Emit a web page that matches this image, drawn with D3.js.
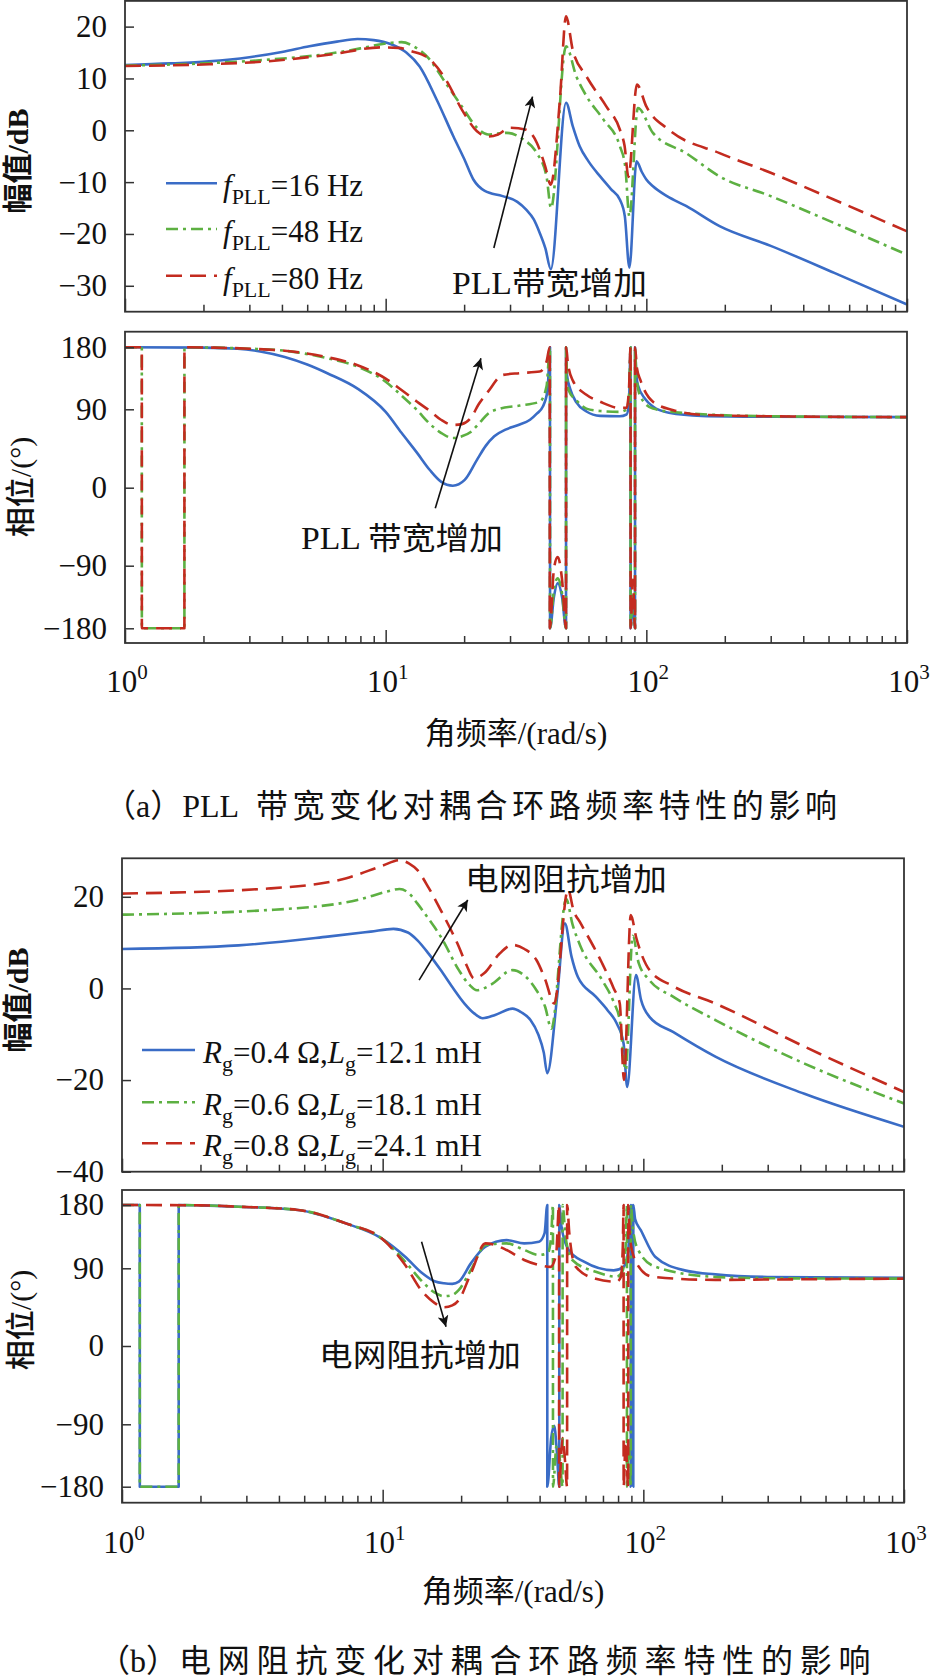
<!DOCTYPE html>
<html><head><meta charset="utf-8">
<script src="https://cdn.jsdelivr.net/npm/d3@7"></script>
<style>
body{margin:0;background:#fff;}
svg{display:block;background:#fff;}
text{font-family:"Liberation Serif","Noto Sans CJK SC",serif;fill:#111;}
</style></head><body>
<svg id="c" width="933" height="1680"></svg>
<script>
// ---------- data ----------
const xDomain = [1, 1000];
const xMajor = [1, 10, 100, 1000];
const xExp = ["0", "1", "2", "3"];
const magTicksA = [-30, -20, -10, 0, 10, 20];
const magTicksB = [-40, -20, 0, 20];
const phaseTicks = [-180, -90, 0, 90, 180];

const legendA = ["=16 Hz", "=48 Hz", "=80 Hz"];
const legendB = [["=0.4 Ω,", "=12.1 mH"], ["=0.6 Ω,", "=18.1 mH"], ["=0.8 Ω,", "=24.1 mH"]];

// (a) magnitude, dB  [rad/s, dB]
const magA16 = [[1,12.6],[1.5,12.9],[2.1,13.3],[3,14.1],[4,15.1],[5.1,16.2],[6.5,17.1],[7.8,17.6],[9,17.4],[10.5,16.6],[12,15],[13.5,12.3],[15.7,5.9],[18.2,-1.2],[20,-5.5],[21.7,-9.5],[24,-11.7],[28.1,-12.7],[32,-13.8],[34.6,-15.3],[37,-17.2],[39,-19.8],[41,-22.8],[43,-26.8],[49.2,5.3],[52.2,0.8],[55.5,-3.1],[60,-6],[66.5,-8.9],[73,-11.3],[79.2,-13.4],[82.7,-16.6],[86.1,-26.5],[91.7,-6.0],[96,-8],[100,-9.5],[106,-10.8],[120,-12.7],[142,-14.6],[191,-18.5],[300,-22.3],[526,-27.5],[1000,-33.6]];
const magA48 = [[1,12.5],[2,12.9],[3.5,13.6],[6.3,14.9],[8,15.8],[9.6,16.6],[11.5,17.0],[13,16],[14.6,13.9],[17,9.1],[19.6,4.6],[22.4,0.5],[24.7,-0.8],[29.1,-0.5],[33.8,-1.8],[38,-4.4],[41.4,-8.9],[43.1,-15],[49.2,16.2],[53.9,10.4],[58.9,6.6],[68.4,2.1],[79.2,-3.1],[83,-7],[86.1,-16.6],[92.8,4.3],[106,-0.5],[142,-4.4],[191,-8.9],[300,-12.7],[526,-17.9],[1000,-24]];
const magA80 = [[1,12.4],[2,12.7],[3.5,13.3],[6.3,14.7],[9.6,16.0],[11.2,15.9],[12.5,15.3],[14.6,13.9],[17,9.8],[19.6,4.0],[22.4,-0.2],[24.7,-1.2],[27,-0.8],[30,0.5],[34.6,0.1],[38,-2.4],[40.9,-6.9],[43,-10.5],[46.6,5.9],[49.2,22],[52.2,15.5],[58.9,10.4],[70.2,4.6],[79.2,0.1],[82.5,-3],[85.4,-9],[92,8.8],[100,4.6],[122,0.1],[191,-4.4],[300,-8.2],[526,-13.4],[1000,-19.5]];

// (a) phase, deg
const phA16 = [[1,180],[2,179.5],[2.7,178],[3.3,174],[4.1,166],[5,155],[6,142],[7.8,120],[10,87],[11.5,63],[13.2,40],[14.8,20],[16.3,7],[18.1,2.3],[20.1,9],[22.4,32],[24.2,48],[26.1,59],[29,67],[32.3,72],[35.8,78],[38,85],[40.1,94],[41.8,118],[42.7,180],[42.72,-180],[44.2,-135],[45.7,-115],[47.5,-135],[49.2,-180],[49.22,180],[49.6,140],[51,120],[53.9,100],[58.9,87.5],[66.5,82.5],[79,82],[84,84],[85.8,100],[87,180],[87.02,-180],[88.8,-140],[90.5,-180],[90.52,180],[91.3,150],[92.8,125],[99,105],[106,94],[122,86],[163,82.5],[300,81.5],[1000,81]];
const phA48 = [[1,180],[1.16,180],[1.1605,-180],[1.69,-180],[1.6905,180],[2.2,179.5],[3,178],[4.1,175],[6,164],[7.8,152],[10,130],[11.5,110],[13.2,89],[14.8,73],[16.3,63],[18.1,57],[19.6,59],[21.2,64],[23,75],[24.7,85],[27.5,91],[32.7,95.4],[39,101],[41.4,123],[42.7,180],[42.72,-180],[44.2,-125],[45.7,-108],[47.5,-130],[49.2,-180],[49.22,180],[49.6,140],[50.3,118],[53.9,103],[58.9,91],[66.5,88],[79,87],[84,90],[85.8,110],[87,180],[87.02,-180],[88.8,-130],[90.5,-180],[90.52,180],[91.5,140],[95,108],[106,91],[142,85.6],[300,82],[1000,81]];
const phA80 = [[1,180],[1.16,180],[1.1605,-180],[1.69,-180],[1.6905,180],[2.2,179.5],[3,178],[4.1,175],[6,165.5],[7.8,154],[10,134.5],[11.5,118],[13.2,101],[14.8,88],[16.3,78],[18.1,72],[19.6,73],[21.2,80],[22.8,98],[24.7,115.6],[28.1,139.8],[32.7,142.5],[39,144.8],[41.4,159],[42.6,180],[42.62,-180],[44.2,-95],[45.7,-80],[47.5,-110],[49.2,-180],[49.22,180],[50,157],[52.2,132],[58.9,111],[66.5,101],[79,92],[84,92],[85.8,120],[87,180],[87.02,-180],[88.8,-110],[90.5,-180],[90.52,180],[92,150],[95,132],[106,101],[127,89],[163,83.7],[300,82],[1000,81]];

// (b) magnitude, dB
const magB04 = [[1,8.6],[2.8,9.4],[6.15,11.3],[9,12.4],[11,13],[12.5,12.2],[13.6,10.5],[15,7.6],[16.7,4.0],[18.5,0.3],[20.6,-3.3],[22.5,-5.5],[24.2,-6.5],[27,-5.8],[31.5,-4.4],[34,-5.2],[36.9,-6.9],[39.5,-10],[41.5,-14],[42.8,-18.5],[46.7,-1.8],[50,14.2],[53,7],[56.1,2.5],[65.7,-1.8],[73,-4.8],[79,-7.6],[84,-12],[86.7,-21.5],[93.7,2.9],[98,-2.5],[105.6,-6.2],[130,-9.5],[189,-14.9],[415,-23],[1000,-30.2]];
const magB06 = [[1,16.1],[3.63,17.1],[8,19.3],[10.5,21.2],[11.6,21.7],[12.6,20.8],[13.6,18.5],[15,15.2],[16.7,11.3],[19.6,4.0],[21.5,0.8],[23,-0.4],[26,0.8],[31.5,4.0],[35,2.8],[38.9,-0.4],[42,-4],[44.4,-8.8],[50.6,19.5],[53.5,14],[57.5,9.1],[69.5,1.8],[77,-3],[81.2,-6.9],[85.6,-17.8],[91,11.5],[96,5.5],[105.6,1.8],[130,-1.8],[189,-6.9],[415,-16.4],[1000,-25.1]];
const magB08 = [[1,20.7],[3.63,21.8],[7.2,24.0],[10,26.8],[11.6,28],[12.6,27.3],[13.6,25.8],[15,22],[16.7,17.1],[19.6,9.1],[21,5],[22.4,2.2],[24.5,3.3],[28,7.5],[31.5,9.5],[35,8.6],[38.9,6.2],[42,2],[45.5,-3.3],[51.4,21.6],[54,17],[57.5,14.2],[69.5,5.5],[77,0],[81.2,-3.3],[84.3,-20],[89.5,16.0],[94,11],[105.6,4.0],[130,0.5],[189,-3.3],[415,-12.7],[1000,-22.6]];

// (b) phase, deg
const phB04 = [[1,180],[1.17,180],[1.1705,-180],[1.65,-180],[1.6505,180],[2,179.5],[2.8,177.6],[4.73,173],[7.2,154],[9.9,132.6],[12.2,106.5],[14.2,84.2],[15.8,75],[17.2,72.6],[18.5,72],[19.6,74.5],[21.8,97],[24.8,120.7],[29.9,130],[34.9,125.5],[39.8,127.8],[41.8,140],[42.8,180],[42.82,-180],[44.3,-110],[45.5,-92],[46.6,-130],[47.6,-180],[47.62,180],[48.5,150],[51.7,116],[59.2,99.4],[77,87.6],[84,92],[87.5,115],[89.5,180],[89.52,-180],[90.5,-150],[91.5,-180],[91.52,180],[93,160],[97.9,144],[111,106.5],[144,87.6],[189,83],[300,80],[1000,79]];
const phB06 = [[1,180],[1.17,180],[1.1705,-180],[1.65,-180],[1.6505,180],[2,179.5],[2.8,177.6],[4.73,173],[7.2,154],[9.9,132.6],[12.2,99.4],[14.2,74.5],[15.8,62],[17.2,57.7],[18.5,59],[19.6,64.9],[21.8,88],[24.8,123],[29.9,125.5],[34.9,116],[39.8,109],[43,112],[44.3,135],[45,180],[45.02,-180],[46.5,-120],[47.8,-140],[49,-180],[49.02,180],[50.3,135],[53.4,101.8],[65.7,86],[79,80.3],[83,86],[85.5,120],[86.5,180],[86.52,-180],[88,-120],[89.5,-180],[89.52,180],[91,150],[95,118],[111,92.3],[189,80],[300,78.5],[1000,78]];
const phB08 = [[1,180],[2,179.5],[2.8,177.6],[4.73,173],[7.2,154],[9.9,132.6],[12.2,94.7],[14.2,62.9],[15.8,50],[17.2,44.8],[18.5,47],[19.6,53.3],[21.8,84.2],[24.8,125.5],[29.9,116],[34.9,101.8],[39.8,94.7],[44,92],[46.3,110],[47.5,180],[47.52,-180],[49,-110],[50,-140],[51,-180],[51.02,180],[52,140],[55,92.3],[65.7,77.8],[79,74.5],[82,80],[83.4,120],[84,180],[84.02,-180],[85.5,-115],[87.5,-180],[87.52,180],[89,130],[95,95],[108,80.3],[189,76.6],[300,77],[1000,78]];

// annotations: [w, value]
const arrowMagA = [[26.0,-22.7],[36.6,6.5]];
const arrowPhA = [[15.5,-23.7],[23.2,164]];
const arrowMagB = [[13.8,1.8],[21.2,19.3]];
const arrowPhB = [[14.1,127.8],[17.5,22.4]];
const noteA = "PLL带宽增加", noteA2 = "PLL 带宽增加", noteB = "电网阻抗增加";
const notePosMagA = [17.96,-31.6], notePosPhA = [4.73,-71], notePosMagB = [20.7,21.4], notePosPhB = [5.70,-22.5];

// ---------- drawing ----------
const colors = ["#3A6CC6", "#5DB042", "#C32B1F"];
const dashes = [null, "12,5,3,5", "16,8"];
const svg = d3.select("#c");
const defs = svg.append("defs");
defs.append("marker").attr("id","ah").attr("viewBox","0 0 10 10").attr("refX",10).attr("refY",5)
  .attr("markerWidth",15).attr("markerHeight",11).attr("markerUnits","userSpaceOnUse").attr("orient","auto")
  .append("path").attr("d","M0,0 L10,5 L0,10 L2.5,5 Z").attr("fill","#111");

const fmt = v => (v < 0 ? "\u2212" + Math.abs(v) : String(v));

function panel(o) {
  const g = svg.append("g");
  const [x0, x1] = o.x.range();
  defs.append("clipPath").attr("id", "cl" + o.id).append("rect")
    .attr("x", x0).attr("y", o.top).attr("width", x1 - x0).attr("height", o.bottom - o.top);
  const line = d3.line().x(d => o.x(d[0])).y(d => o.y(d[1])).curve(d3.curveMonotoneX);
  const lg = g.append("g").attr("clip-path", `url(#cl${o.id})`);
  o.series.forEach((s, i) => {
    lg.append("path").attr("d", line(s)).attr("fill", "none").attr("stroke", colors[i])
      .attr("stroke-width", 2.6).attr("stroke-dasharray", dashes[i]).attr("stroke-linejoin", "round");
  });
  g.append("rect").attr("x", x0).attr("y", o.top).attr("width", x1 - x0).attr("height", o.bottom - o.top)
    .attr("fill", "none").attr("stroke", "#333").attr("stroke-width", 1.8);
  // y axis
  const ya = g.append("g").attr("transform", `translate(${x0},0)`)
    .call(d3.axisLeft(o.y).tickValues(o.yTicks).tickSize(-9).tickPadding(18).tickFormat(fmt));
  ya.select(".domain").remove();
  ya.selectAll("line").attr("stroke", "#333").attr("stroke-width", 1.5);
  ya.selectAll("text").attr("font-size", 31).attr("font-family", "Liberation Serif").attr("fill", "#111");
  // x axis: minor & major ticks (inside)
  const minor = [];
  for (let d = 1; d < 1000; d *= 10) for (let k = 2; k <= 9; k++) minor.push(d * k);
  const xm = g.append("g").attr("transform", `translate(0,${o.bottom})`)
    .call(d3.axisBottom(o.x).tickValues(minor).tickSize(-7).tickFormat(""));
  xm.select(".domain").remove();
  xm.selectAll("line").attr("stroke", "#333").attr("stroke-width", 1.5);
  const xM = g.append("g").attr("transform", `translate(0,${o.bottom})`)
    .call(d3.axisBottom(o.x).tickValues(xMajor).tickSize(-13).tickFormat(""));
  xM.select(".domain").remove();
  xM.selectAll("line").attr("stroke", "#333").attr("stroke-width", 1.5);
  if (o.xLabels) {
    xMajor.forEach((v, i) => {
      const t = g.append("text").attr("x", o.x(v) + 2).attr("y", o.xLabelY).attr("text-anchor", "middle")
        .attr("font-size", 31);
      t.append("tspan").text("10");
      t.append("tspan").attr("dy", -13).attr("font-size", 21).text(xExp[i]);
    });
    g.append("text").attr("x", (x0 + x1) / 2).attr("y", o.xTitleY).attr("text-anchor", "middle")
      .attr("font-size", 31).text("角频率/(rad/s)");
  }
  // y title
  g.append("text").attr("transform", `translate(${o.yTitleX},${o.yTitleY}) rotate(-90)`)
    .attr("text-anchor", "middle").attr("dy", "0.35em").attr("font-size", 30)
    .attr("font-family", "Noto Sans CJK SC").attr("font-weight", o.bold ? "bold" : "500").text(o.yTitle);
  // annotation
  if (o.arrow) {
    g.append("line").attr("x1", o.x(o.arrow[0][0])).attr("y1", o.y(o.arrow[0][1]))
      .attr("x2", o.x(o.arrow[1][0])).attr("y2", o.y(o.arrow[1][1]))
      .attr("stroke", "#111").attr("stroke-width", 1.6).attr("marker-end", "url(#ah)");
  }
  if (o.note) {
    g.append("text").attr("x", o.x(o.notePos[0])).attr("y", o.y(o.notePos[1])).attr("font-size", 31)
      .attr("textLength", o.noteLen).attr("lengthAdjust", "spacingAndGlyphs").text(o.note);
  }
  return g;
}

// scales
const xA = d3.scaleLog().domain(xDomain).range([125, 907]);
const xB = d3.scaleLog().domain(xDomain).range([122, 904]);
const yMagA = d3.scaleLinear().domain([-35, 25]).range([311.7, 0.7]);
const yPhA = d3.scaleLinear().domain(phaseTicks).range([628.3, 565.7, 487.7, 409.3, 347.3]);
const yMagB = d3.scaleLinear().domain([-40, 28.4]).range([1171.7, 858.3]);
const yPhB = d3.scaleLinear().domain(phaseTicks).range([1486.7, 1424.3, 1346, 1268.3, 1205]);

panel({id:"ma", x:xA, y:yMagA, top:0.9, bottom:311.7, series:[magA16,magA48,magA80], yTicks:magTicksA,
  yTitle:"幅值/dB", yTitleX:17, yTitleY:161, bold:true, arrow:arrowMagA, note:noteA, notePos:notePosMagA, noteLen:195});
panel({id:"pa", x:xA, y:yPhA, top:331.7, bottom:643, series:[phA16,phA48,phA80], yTicks:phaseTicks,
  yTitle:"相位/(°)", yTitleX:20, yTitleY:487, xLabels:true, xLabelY:692, xTitleY:744,
  arrow:arrowPhA, note:noteA2, notePos:notePosPhA, noteLen:202});
panel({id:"mb", x:xB, y:yMagB, top:858.3, bottom:1171.7, series:[magB04,magB06,magB08], yTicks:magTicksB,
  yTitle:"幅值/dB", yTitleX:17, yTitleY:1000, bold:true, arrow:arrowMagB, note:noteB, notePos:notePosMagB, noteLen:202});
panel({id:"pb", x:xB, y:yPhB, top:1190, bottom:1502.7, series:[phB04,phB06,phB08], yTicks:phaseTicks,
  yTitle:"相位/(°)", yTitleX:20, yTitleY:1320, xLabels:true, xLabelY:1553, xTitleY:1602,
  arrow:arrowPhB, note:noteB, notePos:notePosPhB, noteLen:202});

// legends
function legend(x0, x1, tx, ys, build) {
  ys.forEach((y, i) => {
    svg.append("line").attr("x1", x0).attr("x2", x1).attr("y1", y).attr("y2", y)
      .attr("stroke", colors[i]).attr("stroke-width", 2.6).attr("stroke-dasharray", dashes[i]);
    const t = svg.append("text").attr("x", tx).attr("y", y + 13).attr("font-size", 31);
    build(t, i);
  });
}
legend(166, 217, 223, [183.3, 229, 275.7], (t, i) => {
  t.append("tspan").attr("font-style", "italic").text("f");
  t.append("tspan").attr("dy", 8).attr("font-size", 22).text("PLL");
  t.append("tspan").attr("dy", -8).text(legendA[i]);
});
legend(142, 195, 203, [1050, 1102.3, 1143.3], (t, i) => {
  t.append("tspan").attr("font-style", "italic").text("R");
  t.append("tspan").attr("dy", 8).attr("font-size", 22).text("g");
  t.append("tspan").attr("dy", -8).text(legendB[i][0]);
  t.append("tspan").attr("font-style", "italic").text("L");
  t.append("tspan").attr("dy", 8).attr("font-size", 22).text("g");
  t.append("tspan").attr("dy", -8).text(legendB[i][1]);
});

// captions
function caption(x, y, letter, latin, cjk, cjkX, spacing) {
  const t = svg.append("text").attr("x", x).attr("y", y).attr("font-size", 32);
  t.append("tspan").attr("font-family", "Noto Sans CJK SC").text("（");
  t.append("tspan").attr("font-family", "Liberation Serif").text(letter);
  t.append("tspan").attr("font-family", "Noto Sans CJK SC").text("）");
  if (latin) t.append("tspan").text(latin);
  t.append("tspan").attr("x", cjkX).attr("letter-spacing", spacing).text(cjk);
}
caption(104, 817, "a", "PLL", "带宽变化对耦合环路频率特性的影响", 256, 4.6);
caption(98, 1672, "b", null, "电网阻抗变化对耦合环路频率特性的影响", 179, 6.8);
</script></body></html>
